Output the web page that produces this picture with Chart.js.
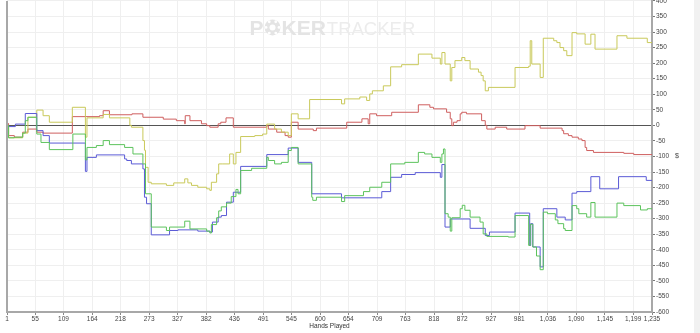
<!DOCTYPE html>
<html>
<head>
<meta charset="utf-8">
<script src="https://cdn.jsdelivr.net/npm/chart.js@4/dist/chart.umd.min.js"></script>
<style>
  body { margin: 0; background: #fff; }
  #wrap { position: relative; width: 700px; height: 333px; overflow: hidden; }
  #graph { position: absolute; left: 0; top: -4px; }
  #strip { position: absolute; right: 0; top: 0; width: 6px; height: 333px; background: #f1f1f1; }
</style>
</head>
<body>
<div id="wrap">
  <canvas id="graph" width="700" height="337"></canvas>
  <div id="strip"></div>
</div>
<script>
// x axis tick labels (hands)
const xTicks = [1, 55, 109, 164, 218, 273, 327, 382, 436, 491, 545, 600, 654, 709, 763, 818, 872, 927, 981, 1036, 1090, 1145, 1199, 1235];

// won with showdown (blue)
const blueHands = [1, 3, 17, 36, 58, 70, 82, 151, 154, 172,
  226, 230, 239, 261, 264, 268, 277, 312, 328, 366,
  389, 394, 405, 411, 421, 434, 448, 498, 539, 558,
  584, 641, 718, 735, 756, 782, 830, 833, 839, 849,
  887, 916, 924, 973, 1001, 1003, 1007, 1021, 1027, 1053,
  1069, 1082, 1091, 1118, 1135, 1171, 1224, 1235];
const blueValues = [0, -4, 4, 38, -17, -33, -57, -148, -103, -95,
  -108, -113, -124, -140, -231, -252, -352, -338, -336, -340,
  -343, -311, -295, -290, -247, -215, -132, -94, -73, -119,
  -220, -233, -213, -167, -158, -152, -167, -126, -327, -301,
  -331, -354, -343, -282, -386, -316, -391, -455, -268, -295,
  -304, -218, -213, -165, -204, -165, -177, -177];

// net won (green)
const greenHands = [1, 4, 15, 31, 36, 41, 58, 66, 82, 127,
  151, 154, 172, 185, 197, 226, 242, 261, 266, 277,
  306, 312, 341, 351, 383, 389, 392, 402, 406, 411,
  421, 430, 439, 443, 448, 469, 498, 501, 513, 526,
  539, 545, 558, 584, 586, 593, 641, 647, 683, 695,
  718, 735, 762, 788, 800, 814, 830, 833, 836, 839,
  845, 849, 852, 868, 872, 877, 887, 906, 912, 919,
  960, 973, 999, 1002, 1007, 1014, 1021, 1027, 1035, 1050,
  1055, 1066, 1069, 1082, 1091, 1095, 1110, 1118, 1126, 1168,
  1181, 1213, 1226, 1235];
const greenValues = [0, -40, -38, -25, 15, 26, -28, -55, -78, -28,
  -111, -71, -65, -49, -62, -71, -92, -124, -220, -327,
  -338, -327, -308, -333, -340, -346, -319, -297, -275, -262,
  -250, -229, -206, -220, -145, -138, -103, -113, -124, -119,
  -81, -71, -124, -231, -241, -231, -245, -226, -213, -199,
  -183, -124, -119, -87, -92, -103, -119, -92, -76, -284,
  -295, -340, -297, -268, -257, -273, -295, -311, -349, -357,
  -359, -290, -386, -318, -391, -420, -464, -279, -284, -304,
  -316, -332, -338, -258, -268, -284, -295, -248, -295, -250,
  -258, -272, -268, -268];

// all-in ev (yellow)
const yellowHands = [1, 4, 31, 41, 58, 70, 82, 126, 151, 154,
  185, 197, 236, 239, 261, 264, 266, 271, 277, 306,
  320, 341, 347, 354, 366, 383, 389, 392, 402, 406,
  414, 427, 434, 439, 448, 475, 490, 498, 513, 526,
  539, 545, 558, 580, 641, 647, 676, 689, 695, 700,
  721, 735, 756, 788, 814, 830, 833, 839, 849, 852,
  858, 871, 877, 887, 903, 908, 912, 916, 922, 973,
  999, 1002, 1005, 1021, 1027, 1047, 1053, 1059, 1066, 1072,
  1082, 1091, 1107, 1118, 1126, 1168, 1187, 1226, 1235];
const yellowValues = [0, -40, -25, 26, 49, 31, 10, 58, -38, 24,
  35, 24, 0, -6, -49, -80, -135, -183, -188, -193,
  -185, -172, -185, -193, -199, -204, -209, -183, -156, -124,
  -124, -92, -124, -87, -36, -33, -28, 4, -12, -22,
  -33, 37, 21, 83, 69, 85, 91, 80, 101, 111,
  127, 188, 195, 229, 216, 197, 234, 197, 143, 186,
  208, 218, 208, 181, 171, 160, 143, 111, 122, 186,
  190, 272, 197, 154, 280, 272, 266, 250, 240, 224,
  298, 294, 261, 293, 245, 288, 280, 266, 268];

// won without showdown (red)
const redHands = [1, 4, 15, 31, 41, 58, 70, 126, 178, 185,
  197, 240, 261, 300, 325, 341, 342, 351, 373, 383,
  389, 405, 410, 420, 434, 498, 501, 517, 533, 539,
  545, 558, 587, 593, 651, 680, 692, 695, 708, 737,
  788, 810, 817, 842, 849, 852, 855, 862, 868, 871,
  880, 909, 916, 919, 935, 957, 992, 1021, 1063, 1066,
  1075, 1082, 1094, 1101, 1107, 1110, 1123, 1181, 1200, 1235];
const redValues = [6, -33, -38, -22, -12, -22, -25, 28, 31, 47,
  34, 37, 26, 20, 15, 5, 31, 15, 5, -1,
  -6, 5, 10, 24, -6, -1, -12, -22, -33, -38,
  10, -12, -17, -9, 10, 21, 5, 37, 31, 42,
  66, 58, 53, 42, 21, -1, 10, 15, 37, 42,
  37, 15, 0, -12, -6, -12, -1, -9, -17, -27,
  -33, -38, -44, -49, -71, -81, -87, -90, -94, -94];

function toPoints(hands, values) {
  return hands.map((h, i) => ({ x: h, y: values[i] }));
}

function line(label, hands, values, color) {
  return {
    label,
    data: toPoints(hands, values),
    borderColor: color,
    borderWidth: 1,
    pointRadius: 0,
    stepped: true,
    fill: false
  };
}

// watermark, left border and the $ unit
const extras = {
  id: 'extras',
  beforeDatasetsDraw(chart) {
    const { ctx, chartArea } = chart;
    const cx = (chartArea.left + chartArea.right) / 2;
    const base = chartArea.top + 34;
    ctx.save();
    ctx.textBaseline = 'alphabetic';
    ctx.font = 'bold 21px "Liberation Sans", Arial, sans-serif';
    ctx.fillStyle = '#e4e4e4';
    let x = cx - 80;
    ctx.fillText('P', x, base);
    x += ctx.measureText('P').width + 1;
    // chip in place of the O
    const r = 8;
    ctx.beginPath();
    ctx.arc(x + r, base - r + 0.5, r, 0, Math.PI * 2);
    ctx.fill();
    ctx.fillStyle = '#fff';
    for (let k = 0; k < 6; k++) {
      const a = k * Math.PI / 3;
      ctx.beginPath();
      ctx.arc(x + r + Math.cos(a) * (r - 1.5), base - r + 0.5 + Math.sin(a) * (r - 1.5), 1.4, 0, Math.PI * 2);
      ctx.fill();
    }
    ctx.beginPath();
    ctx.arc(x + r, base - r + 0.5, 3, 0, Math.PI * 2);
    ctx.fill();
    ctx.fillStyle = '#e4e4e4';
    x += 2 * r + 1;
    ctx.fillText('KER', x, base);
    x += ctx.measureText('KER').width + 1;
    ctx.font = '18.5px "Liberation Sans", Arial, sans-serif';
    ctx.fillStyle = '#ececec';
    ctx.fillText('TRACKER', x, base);
    ctx.restore();
  },
  afterDraw(chart) {
    const { ctx, chartArea } = chart;
    ctx.save();
    ctx.strokeStyle = '#a8a8a8';
    ctx.lineWidth = 2;
    ctx.beginPath();
    ctx.moveTo(chartArea.left, chartArea.top);
    ctx.lineTo(chartArea.left, chartArea.bottom);
    ctx.stroke();
    ctx.fillStyle = '#444';
    ctx.font = '7px "Liberation Sans", Arial, sans-serif';
    ctx.textBaseline = 'middle';
    ctx.fillText('$', chartArea.right + 23, (chartArea.top + chartArea.bottom) / 2);
    ctx.restore();
  }
};

new Chart(document.getElementById('graph'), {
  type: 'line',
  data: {
    datasets: [
      line('Net Won', greenHands, greenValues, '#5cc35c'),
      line('Showdown Winnings', blueHands, blueValues, '#5b5bd6'),
      line('All-in EV', yellowHands, yellowValues, '#c9c95a'),
      line('Non-showdown Winnings', redHands, redValues, '#cf5f5f')
    ]
  },
  options: {
    responsive: false,
    animation: false,
    devicePixelRatio: 1,
    layout: { autoPadding: false, padding: { left: 7, top: 0, right: 0, bottom: 0 } },
    plugins: { legend: { display: false }, tooltip: { enabled: false } },
    scales: {
      x: {
        type: 'linear',
        min: 1,
        max: 1235,
        afterBuildTicks: axis => { axis.ticks = xTicks.map(v => ({ value: v })); },
        afterFit: axis => { axis.height = 21; },
        ticks: {
          autoSkip: false,
          maxRotation: 0,
          padding: 0,
          color: '#444',
          font: { size: 6.5, family: '"Liberation Sans", Arial, sans-serif' },
          callback: v => v.toLocaleString('en-US')
        },
        grid: { color: '#efefef', tickColor: '#888', tickLength: 3 },
        border: { color: '#a8a8a8', width: 2 },
        title: {
          display: true,
          text: 'Hands Played',
          color: '#333',
          padding: { top: 0, bottom: 3 },
          font: { size: 6.5, family: '"Liberation Sans", Arial, sans-serif' }
        }
      },
      y: {
        position: 'right',
        min: -600,
        max: 400,
        afterFit: axis => { axis.width = 48; },
        ticks: {
          stepSize: 50,
          padding: 1,
          color: '#444',
          font: { size: 6.5, family: '"Liberation Sans", Arial, sans-serif' }
        },
        grid: {
          color: c => (c.tick && c.tick.value === 0 ? '#555' : '#efefef'),
          tickColor: '#777',
          tickLength: 3
        },
        border: { color: '#a8a8a8', width: 2 }
      }
    }
  },
  plugins: [extras]
});
</script>
</body>
</html>
